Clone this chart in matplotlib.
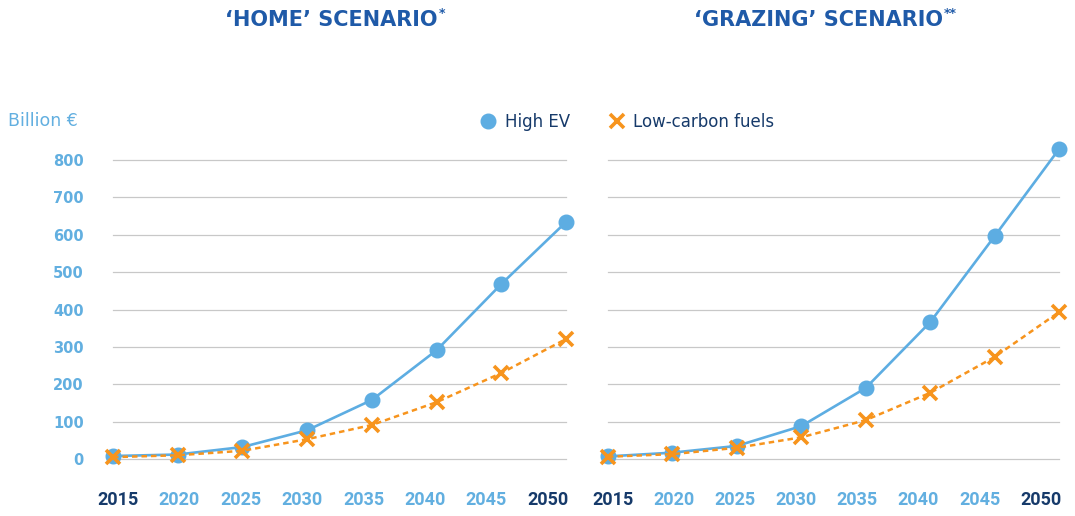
import numpy as np
import matplotlib.pyplot as plt

# data
years = [2015, 2020, 2025, 2030, 2035, 2040, 2045, 2050]
home_ev = [8, 12, 32, 77, 158, 291, 468, 634]
home_lcf = [5, 10, 22, 53, 91, 152, 230, 321]
grazing_ev = [7, 17, 35, 88, 190, 366, 596, 829]
grazing_lcf = [6, 13, 30, 58, 104, 177, 273, 393]
yticks = [0, 100, 200, 300, 400, 500, 600, 700, 800]
titles = ["‘HOME’ SCENARIO", "‘GRAZING’ SCENARIO"]
stars = ["*", "**"]

BLUE = "#5dade2"
ORANGE = "#f7941d"
TITLE = "#1f5aa8"
NAVY = "#163a6a"
LIGHT = "#62afe0"
GRID = "#c8c8c8"

W, H = 1075, 516
fig = plt.figure(figsize=(W / 100, H / 100), dpi=100)

def px(x0, y0, w, h):
    return [x0 / W, 1 - (y0 + h) / H, w / W, h / H]

ax1 = fig.add_axes(px(113, 160, 453, 299))
ax2 = fig.add_axes(px(608, 160, 451, 299))

series = [(ax1, home_ev, home_lcf), (ax2, grazing_ev, grazing_lcf)]
for i, (ax, ev, lcf) in enumerate(series):
    ax.plot(years, ev, color=BLUE, lw=1.9, marker="o", ms=10.5,
            clip_on=False, zorder=3, label="High EV")
    ax.plot(years, lcf, color=ORANGE, lw=1.8, ls=(0, (2.2, 1.6)), marker="x",
            ms=10, mew=2.6, clip_on=False, zorder=4, label="Low-carbon fuels")
    ax.set_xlim(2015, 2050)
    ax.set_ylim(0, 800)
    ax.set_yticks(yticks)
    for y in yticks:
        ax.axhline(y, color=GRID, lw=0.9, zorder=1, clip_on=False)
    for s in ax.spines.values():
        s.set_visible(False)
    ax.tick_params(length=0)
    ax.set_xticks(np.linspace(2015.35, 2048.6, len(years)))
    ax.set_xticklabels([str(y) for y in years], family="Roboto",
                       fontweight="bold", fontsize=13)
    for j, t in enumerate(ax.get_xticklabels()):
        t.set_color(NAVY if j in (0, len(years) - 1) else LIGHT)
    ax.tick_params(axis="x", pad=23)
    if i == 0:
        ax.set_yticklabels([str(v) for v in yticks], color=LIGHT, fontsize=10.5,
                           fontweight="bold")
        ax.tick_params(axis="y", pad=21)
    else:
        ax.set_yticklabels([])

# titles with raised asterisks
title_x = [331, 818]
for tx, t, st in zip(title_x, titles, stars):
    txt = fig.text(tx / W, 1 - 20 / H, t, ha="center", va="center",
                   fontsize=15, fontweight="bold", color=TITLE)
    fig.canvas.draw()
    bb = txt.get_window_extent()
    fig.text(bb.x1 / W + 0.001, 1 - 13 / H, st, ha="left", va="center",
             fontsize=9, fontweight="bold", color=TITLE)

fig.text(8 / W, 1 - 121 / H, "Billion €", ha="left", va="center",
         fontsize=12.5, color=LIGHT)

h, l = ax1.get_legend_handles_labels()
fig.legend(h, l, loc="center", bbox_to_anchor=(627 / W, 1 - 122 / H), ncol=2,
           frameon=False, fontsize=12, labelcolor=NAVY, handlelength=1.0,
           handletextpad=0.5, columnspacing=2.3, numpoints=1)
leg = fig.legends[0]
for lh in leg.legend_handles:
    lh.set_linestyle("none")

fig.savefig("out.png", dpi=100)
